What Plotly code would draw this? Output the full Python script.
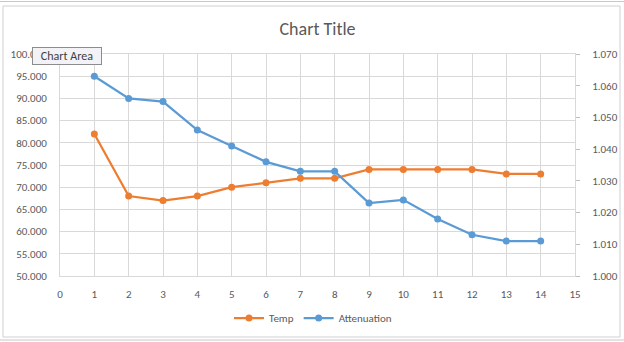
import plotly.graph_objects as go

x_vals = [1, 2, 3, 4, 5, 6, 7, 8, 9, 10, 11, 12, 13, 14]
temp = [82, 68, 67, 68, 70, 71, 72, 72, 74, 74, 74, 74, 73, 73]
attenuation = [1.063, 1.056, 1.055, 1.046, 1.041, 1.036, 1.033, 1.033, 1.023, 1.024, 1.018, 1.013, 1.011, 1.011]
series_names = ["Temp", "Attenuation"]
title_text = "Chart Title"
tooltip_text = "Chart Area"

W, H = 624, 342
L, R, T, B = 60, 49, 54, 66
pw, ph = W - L - R, H - T - B

def px(x):
    return (x - L) / pw

def py(y):
    return (H - B - y) / ph

font_fam = "Calibri, Carlito, Liberation Sans, Arial, sans-serif"
grey = "#595959"
grid = "#d9d9d9"

fig = go.Figure()
fig.add_trace(go.Scatter(
    x=x_vals, y=temp, name=series_names[0], mode="lines+markers",
    line=dict(color="#ED7D31", width=2.25), marker=dict(size=7, color="#ED7D31"),
    yaxis="y"))
fig.add_trace(go.Scatter(
    x=x_vals, y=attenuation, name=series_names[1], mode="lines+markers",
    line=dict(color="#5B9BD5", width=2.25), marker=dict(size=7, color="#5B9BD5"),
    yaxis="y2"))

fig.update_layout(
    width=W, height=H,
    margin=dict(l=L, r=R, t=T, b=B, pad=0, autoexpand=False),
    paper_bgcolor="white", plot_bgcolor="white",
    font=dict(family=font_fam, size=11, color=grey),
    title=dict(text=title_text, x=0.5, xref="paper", xanchor="center",
               y=1 - 29 / H, yref="container", yanchor="middle",
               font=dict(size=18, color=grey, family=font_fam)),
    xaxis=dict(range=[0, 15], dtick=1, tick0=0, showgrid=True, gridcolor=grid, gridwidth=1,
               zeroline=False, showline=True, linecolor=grid, mirror=True, automargin=False,
               ticks="", ticklabelstandoff=8, tickfont=dict(size=11, color=grey)),
    yaxis=dict(range=[50, 100], dtick=5, tick0=50, tickformat=".3f", showgrid=True,
               gridcolor=grid, zeroline=False, showline=True, linecolor=grid, mirror=True,
               automargin=False,
               ticks="", ticklabelstandoff=10, tickfont=dict(size=11, color=grey)),
    yaxis2=dict(range=[1.0, 1.07], dtick=0.01, tick0=1.0, tickformat=".3f", overlaying="y",
                side="right", showgrid=False, zeroline=False, showline=False, automargin=False,
                ticks="outside", ticklen=4, tickcolor="#bfbfbf", tickwidth=1,
                ticklabelstandoff=10, tickfont=dict(size=11, color=grey)),
    showlegend=True,
    legend=dict(orientation="h", x=px(313), xanchor="center", y=py(318), yanchor="middle",
                font=dict(size=11, color=grey), itemwidth=30, bgcolor="rgba(0,0,0,0)",
                traceorder="normal"),
)

# chart frame and surrounding sheet lines
fig.add_shape(type="rect", xref="paper", yref="paper",
              x0=px(3), x1=px(620), y0=py(337), y1=py(6),
              line=dict(color="#d0d0d0", width=1), fillcolor="rgba(0,0,0,0)", layer="below")
fig.add_shape(type="line", xref="paper", yref="paper",
              x0=px(0), x1=px(624), y0=py(1.5), y1=py(1.5),
              line=dict(color="#c8c8c8", width=1))
fig.add_shape(type="line", xref="paper", yref="paper",
              x0=px(0), x1=px(624), y0=py(340), y1=py(340),
              line=dict(color="#c8c8c8", width=1))

# "Chart Area" tooltip
fig.add_annotation(text=tooltip_text, xref="paper", yref="paper",
                   x=px(66.5), y=py(56), xanchor="center", yanchor="middle",
                   showarrow=False, width=66, height=14, borderpad=1,
                   bgcolor="#f3f3f7", bordercolor="#8c8c8c", borderwidth=1,
                   font=dict(size=12, color="#404040", family=font_fam))

fig.write_html("out.html")
